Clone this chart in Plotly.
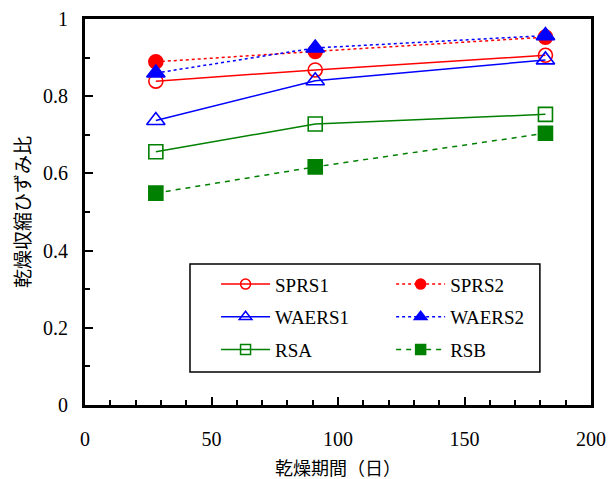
import plotly.graph_objects as go

days = [28, 91, 182]
sprs1 = [0.839, 0.868, 0.906]
sprs2 = [0.889, 0.916, 0.953]
waers1 = [0.737, 0.840, 0.894]
waers2 = [0.860, 0.925, 0.957]
rsa = [0.656, 0.728, 0.753]
rsb = [0.549, 0.617, 0.704]

SERIF = "Liberation Serif, Times New Roman, serif"
CJK = "Noto Sans CJK JP"

series = [
    ("SPRS1", sprs1, "red", "solid", "circle-open", "legend"),
    ("SPRS2", sprs2, "red", "3px,3px", "circle", "legend2"),
    ("WAERS1", waers1, "blue", "solid", "triangle-up-open", "legend"),
    ("WAERS2", waers2, "blue", "3px,3px", "triangle-up", "legend2"),
    ("RSA", rsa, "green", "solid", "square-open", "legend"),
    ("RSB", rsb, "green", "5px,5px", "square", "legend2"),
]

fig = go.Figure()
for name, vals, col, dash, sym, leg in series:
    big = 16 if "triangle" in sym else 14
    # data trace
    fig.add_trace(go.Scatter(
        x=days, y=vals, name=name, mode="lines+markers", showlegend=False,
        legendgroup=name,
        line=dict(color=col, width=1.5, dash=dash),
        marker=dict(symbol=sym, size=big, color=col, line=dict(color=col, width=1.6)),
    ))
    # legend entry (smaller key marker, as in the original legend)
    fig.add_trace(go.Scatter(
        x=[None], y=[None], name=name, mode="lines+markers",
        legend=leg, legendgroup=name, showlegend=True,
        line=dict(color=col, width=1.5, dash=dash),
        marker=dict(symbol=sym, size=11 if "triangle" in sym else 10, color=col,
                    line=dict(color=col, width=1.5)),
    ))

# legend frame
fig.add_shape(type="rect", xref="paper", yref="paper",
              x0=0.2075, x1=0.899, y0=0.0855, y1=0.365,
              line=dict(color="black", width=1.5), fillcolor="white", layer="below")

legend_common = dict(
    orientation="v", xanchor="left", yanchor="top",
    bgcolor="rgba(0,0,0,0)", borderwidth=0,
    font=dict(family=SERIF, size=19, color="black"),
    tracegroupgap=5, itemwidth=49,
)

fig.update_layout(
    width=616, height=479,
    margin=dict(l=77, r=33, t=11, b=82, autoexpand=False),
    paper_bgcolor="white", plot_bgcolor="white",
    font=dict(family=SERIF, size=20, color="black"),
    showlegend=True,
    legend=dict(x=0.259, y=0.362, **legend_common),
    legend2=dict(x=0.605, y=0.362, **legend_common),
    xaxis=dict(
        range=[0, 200], tickvals=[0, 50, 100, 150, 200],
        ticks="inside", ticklen=8, tickwidth=2, tickcolor="black",
        minor=dict(dtick=10, ticks="inside", ticklen=5, tickwidth=1.5, tickcolor="black"),
        showline=True, linecolor="black", linewidth=3, mirror=True,
        showgrid=False, zeroline=False, automargin=False,
        ticklabelstandoff=14, ticklabeloverflow="allow",
        tickfont=dict(family=SERIF, size=20),
        title=dict(text="乾燥期間（日）", font=dict(family=CJK, size=18), standoff=14),
    ),
    yaxis=dict(
        range=[0, 1], tickvals=[0, 0.2, 0.4, 0.6, 0.8, 1],
        ticktext=["0", "0.2", "0.4", "0.6", "0.8", "1"],
        ticks="inside", ticklen=8, tickwidth=2, tickcolor="black",
        minor=dict(dtick=0.1, ticks="inside", ticklen=5, tickwidth=1.5, tickcolor="black"),
        showline=True, linecolor="black", linewidth=3, mirror=True,
        showgrid=False, zeroline=False, automargin=False,
        ticklabelstandoff=10, ticklabeloverflow="allow",
        tickfont=dict(family=SERIF, size=20),
        title=dict(text="乾燥収縮ひずみ比", font=dict(family=CJK, size=19), standoff=14),
    ),
)

fig.write_html("out.html")
